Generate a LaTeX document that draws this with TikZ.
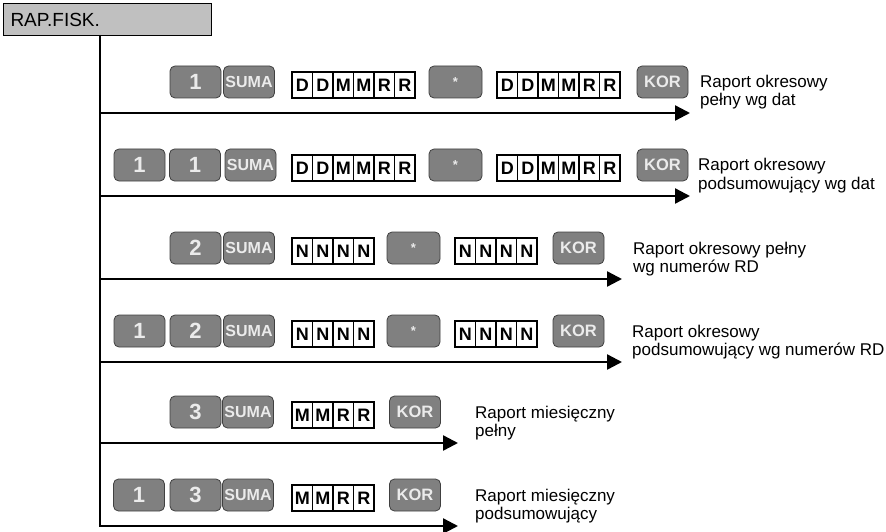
\documentclass[tikz,border=0pt]{standalone}
\usepackage{fontspec}
\setmainfont{Liberation Sans}
\usetikzlibrary{arrows.meta}
\definecolor{keyfill}{HTML}{808080}
\definecolor{keyline}{HTML}{404040}
\definecolor{keytext}{HTML}{EBEBEB}
\definecolor{hdrfill}{HTML}{C0C0C0}
\newcommand\cellrow[4]{%
  \foreach \L [count=\i from 0] in {#4}{%
    \node[cell] (#1-\i) at ({#2+10.25+20.5*\i},#3) {\L};}}
\begin{document}
\begin{tikzpicture}[x=1pt,y=-1pt,
  key/.style={draw=keyline, line width=0.8pt, fill=keyfill, rounded corners=5pt,
    minimum width=51pt, minimum height=32pt, inner sep=0pt, text=keytext,
    font=\bfseries\fontsize{22}{22}\selectfont},
  sumakey/.style={key, font=\bfseries\fontsize{16}{16}\selectfont},
  korkey/.style={key, font=\bfseries\fontsize{16.5}{16.5}\selectfont},
  starkey/.style={key, minimum width=53pt, font=\bfseries\fontsize{13}{13}\selectfont},
  cell/.style={draw, line width=1.1pt, fill=white, minimum width=20.5pt,
    minimum height=26pt, inner sep=0pt, font=\bfseries\fontsize{18}{18}\selectfont},
  desc/.style={anchor=base west, inner sep=0pt, font=\fontsize{17}{18}\selectfont},
  flow/.style={line width=2.4pt, -{Triangle[length=15pt,width=15pt]}},
  trunkline/.style={line width=1.5pt}
]
\useasboundingbox (0,0) rectangle (886,532);

% header
\node[draw, fill=hdrfill, line width=1pt, anchor=north west, minimum width=208pt,
  minimum height=32pt, text width=194pt, align=left, inner xsep=7pt, inner ysep=0pt,
  font=\fontsize{19}{19}\selectfont] (hdr) at (3,3) {RAP.FISK.};

% trunk
\coordinate (t0) at (100,35);
\coordinate (t1) at (100,527);
\draw[trunkline] (t0) -- (t1);

% ---------- row 1 (arrow y=113)
\node[key] (r1k1) at (195.5,82) {1};
\node[sumakey] (r1s) at (249,82) {SUMA};
\cellrow{r1a}{292}{85}{D,D,M,M,R,R}
\node[starkey] (r1st) at (455.5,82) {*};
\cellrow{r1b}{497}{85}{D,D,M,M,R,R}
\node[korkey] (r1kor) at (662.5,82) {KOR};
\node[desc] (r1d1) at (700,88) {Raport okresowy};
\node[desc] (r1d2) at (700,106) {pełny wg dat};
\coordinate (s1) at (100,113);
\coordinate (e1) at (690,113);
\draw[flow] (s1) -- (e1);

% ---------- row 2 (arrow y=196)
\node[key] (r2k1) at (139.5,165) {1};
\node[key] (r2k2) at (195,165) {1};
\node[sumakey] (r2s) at (250.5,165) {SUMA};
\cellrow{r2a}{292}{168}{D,D,M,M,R,R}
\node[starkey] (r2st) at (455.5,165) {*};
\cellrow{r2b}{497}{168}{D,D,M,M,R,R}
\node[korkey] (r2kor) at (662.5,165) {KOR};
\node[desc] (r2d1) at (698,171) {Raport okresowy};
\node[desc] (r2d2) at (698,189) {podsumowujący wg dat};
\coordinate (s2) at (100,196);
\coordinate (e2) at (690,196);
\draw[flow] (s2) -- (e2);

% ---------- row 3 (arrow y=279)
\node[key] (r3k1) at (195.5,248) {2};
\node[sumakey] (r3s) at (249,248) {SUMA};
\cellrow{r3a}{292}{251}{N,N,N,N}
\node[starkey] (r3st) at (413.5,248) {*};
\cellrow{r3b}{455}{251}{N,N,N,N}
\node[korkey] (r3kor) at (578.5,248) {KOR};
\node[desc] (r3d1) at (633,254) {Raport okresowy pełny};
\node[desc] (r3d2) at (633,272) {wg numerów RD};
\coordinate (s3) at (100,279);
\coordinate (e3) at (622,279);
\draw[flow] (s3) -- (e3);

% ---------- row 4 (arrow y=362)
\node[key] (r4k1) at (139.5,331) {1};
\node[key] (r4k2) at (195.5,331) {2};
\node[sumakey] (r4s) at (249,331) {SUMA};
\cellrow{r4a}{292}{334}{N,N,N,N}
\node[starkey] (r4st) at (413.5,331) {*};
\cellrow{r4b}{455}{334}{N,N,N,N}
\node[korkey] (r4kor) at (578.5,331) {KOR};
\node[desc] (r4d1) at (632,337) {Raport okresowy};
\node[desc] (r4d2) at (632,355) {podsumowujący wg numerów RD};
\coordinate (s4) at (100,362);
\coordinate (e4) at (622,362);
\draw[flow] (s4) -- (e4);

% ---------- row 5 (arrow y=443)
\node[key] (r5k1) at (195.5,412) {3};
\node[sumakey] (r5s) at (248,412) {SUMA};
\cellrow{r5a}{292}{415}{M,M,R,R}
\node[korkey] (r5kor) at (415,412) {KOR};
\node[desc] (r5d1) at (475,418) {Raport miesięczny};
\node[desc] (r5d2) at (475,436) {pełny};
\coordinate (s5) at (100,443);
\coordinate (e5) at (458,443);
\draw[flow] (s5) -- (e5);

% ---------- row 6 (arrow y=526)
\node[key] (r6k1) at (139,495) {1};
\node[key] (r6k2) at (195.5,495) {3};
\node[sumakey] (r6s) at (248,495) {SUMA};
\cellrow{r6a}{292}{498}{M,M,R,R}
\node[korkey] (r6kor) at (415,495) {KOR};
\node[desc] (r6d1) at (475,501) {Raport miesięczny};
\node[desc] (r6d2) at (475,519) {podsumowujący};
\coordinate (s6) at (100,526);
\coordinate (e6) at (458,526);
\draw[flow] (s6) -- (e6);
\end{tikzpicture}
\end{document}
